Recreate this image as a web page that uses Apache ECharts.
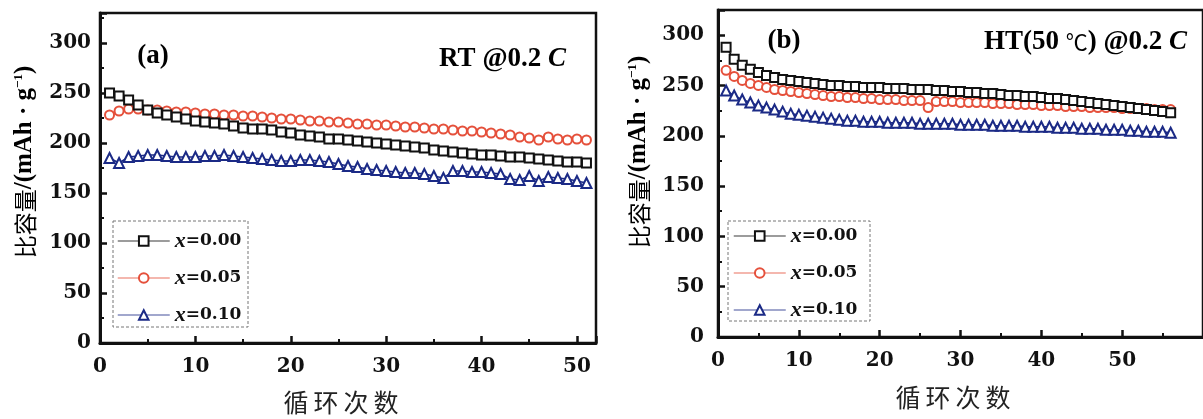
<!DOCTYPE html>
<html>
<head>
<meta charset="utf-8">
<script src="https://cdn.jsdelivr.net/npm/echarts@6/dist/echarts.min.js"></script>
<style>
html,body{margin:0;padding:0;background:#fff;}
#chart{width:1203px;height:419px;}
</style>
</head>
<body>
<div id="chart"></div>
<script>
// ---------- DATA ----------
const cyclesA = [1,2,3,4,5,6,7,8,9,10,11,12,13,14,15,16,17,18,19,20,21,22,23,24,25,26,27,28,29,30,31,32,33,34,35,36,37,38,39,40,41,42,43,44,45,46,47,48,49,50,51];
const rtX000 = [250,247,243,238,233,230,228,226,224,222,221,220,219,217,215,214,214,213,211,210,208,207,206,204,204,203,202,201,200,199,198,197,196,195,193,192,191,190,189,188,188,187,186,186,185,184,183,182,181,181,180];
const rtX005 = [228,232,234,234,233,233,232,231,231,230,229,229,228,228,227,227,226,225,224,224,223,222,222,221,221,220,219,219,218,218,217,216,216,215,214,214,213,212,212,211,210,209,208,206,205,203,206,204,203,204,203];
const rtX010 = [185,180,186,187,188,188,187,186,186,186,187,187,188,187,186,185,184,183,182,182,183,183,182,181,179,177,176,174,173,172,171,170,170,169,167,165,172,172,171,171,170,169,164,163,167,162,166,165,164,162,160];

const cyclesB = [1,2,3,4,5,6,7,8,9,10,11,12,13,14,15,16,17,18,19,20,21,22,23,24,25,26,27,28,29,30,31,32,33,34,35,36,37,38,39,40,41,42,43,44,45,46,47,48,49,50,51,52,53,54,55,56];
const htX000 = [288,276,270,266,263,260,258,256,255,254,253,252,251,250,250,249,249,248,248,248,247,247,247,246,246,246,245,245,244,244,243,243,242,242,241,240,240,239,239,238,237,237,236,235,234,233,232,231,230,229,228,227,226,225,224,223];
const htX005 = [265,259,255,252,250,248,246,245,244,243,242,241,240,239,239,238,238,237,237,236,236,236,235,235,235,228,234,234,234,233,233,233,233,232,232,232,231,231,231,230,230,230,229,229,229,228,228,228,228,227,227,227,227,226,226,226];
const htX010 = [245,240,236,233,230,228,226,224,222,221,220,219,218,217,216,215,215,214,214,214,213,213,213,213,212,212,212,212,212,211,211,211,211,210,210,210,210,209,209,209,209,208,208,208,207,207,207,206,206,206,205,205,204,204,204,203];

const seriesNames = ['x=0.00','x=0.05','x=0.10'];

// ---------- STYLE ----------
const colors = ['#111111','#e5503b','#1b2a86'];
const symbols = ['emptyRect','emptyCircle','emptyTriangle'];
const symSizes = [9,9,10];
const numFont = 'DejaVu Serif';
const axisColor = '#111';

function xAxisCfg(gridIndex, max){
  return {
    type:'value', gridIndex, min:0, max, interval:10,
    axisLine:{show:true, onZero:false, lineStyle:{color:axisColor,width:3}},
    axisTick:{show:true, inside:true, length:7, lineStyle:{color:axisColor,width:2.5}},
    minorTick:{show:true, splitNumber:2, length:4, lineStyle:{color:axisColor,width:2}},
    splitLine:{show:false},
    axisLabel:{color:'#111', fontFamily:numFont, fontWeight:'bold', fontSize:20, margin:14, showMaxLabel:false}
  };
}
function yAxisCfg(gridIndex, max, margin){
  return {
    type:'value', gridIndex, min:0, max, interval:50,
    axisLine:{show:true, onZero:false, lineStyle:{color:axisColor,width:3}},
    axisTick:{show:true, inside:true, length:7, lineStyle:{color:axisColor,width:2.5}},
    minorTick:{show:true, splitNumber:2, length:4, lineStyle:{color:axisColor,width:2}},
    splitLine:{show:false},
    axisLabel:{color:'#111', fontFamily:numFont, fontWeight:'bold', fontSize:20, margin, showMaxLabel:false}
  };
}

function mk(i, xs, ys, gi){
  return {
    type:'line', name:seriesNames[i], xAxisIndex:gi, yAxisIndex:gi,
    data: xs.map((x,k)=>[x, ys[k]]),
    symbol:symbols[i], symbolSize:symSizes[i], showAllSymbol:true,
    lineStyle:{color:colors[i], width:1.5},
    itemStyle:{color:colors[i], borderWidth:2.4},
    z: 3 - i, animation:false
  };
}

const legendText = {
  formatter: n => '{i|x}{n|' + n.slice(1) + '}',
  textStyle:{
    rich:{
      i:{fontFamily:'Liberation Serif', fontStyle:'italic', fontWeight:'bold', fontSize:22, color:'#111'},
      n:{fontFamily:numFont, fontWeight:'bold', fontSize:17, color:'#111'}
    },
    lineHeight:20
  }
};

function legendCfg(left, top){
  return Object.assign({
    orient:'vertical', left, top, padding:0, itemGap:15, itemWidth:52, itemHeight:12,
    data:seriesNames, selectedMode:false,
    lineStyle:{opacity:0.55, width:1.5},
    itemStyle:{borderWidth:2.4}
  }, legendText);
}

const yNameRich = {
  cn:{fontFamily:'Noto Sans CJK SC', fontSize:23, color:'#222'},
  en:{fontFamily:'Liberation Serif', fontWeight:'bold', fontSize:25, color:'#111'},
  sup:{fontFamily:'Liberation Serif', fontWeight:'bold', fontSize:13, color:'#111', verticalAlign:'top', lineHeight:26}
};
function yName(x, y){
  return {type:'text', x, y, rotation:Math.PI/2, silent:true,
    style:{text:'{cn|比容量}{en|/(mAh · g}{sup|−1}{en|)}', rich:yNameRich, align:'center', verticalAlign:'middle'}};
}
function xName(x, y){
  return {type:'text', x, y, silent:true,
    style:{text:'循\u2009环\u2009次\u2009数', fontFamily:'Noto Sans CJK SC', fontSize:25, fill:'#222', align:'center', verticalAlign:'middle'}};
}
function ann(x, y, text, align, size){
  return {type:'text', x, y, silent:true,
    style:{text, rich:{
      b:{fontFamily:'Liberation Serif', fontWeight:'bold', fontSize:size, color:'#111'},
      c:{fontFamily:'Liberation Serif', fontWeight:'bold', fontStyle:'italic', fontSize:size, color:'#111'},
      d:{fontFamily:'Noto Sans CJK SC', fontSize:size - 5, color:'#222'}
    }, align, verticalAlign:'middle'}};
}
function box(x, y, w, h){
  return {type:'rect', silent:true, z:-1, shape:{x, y, width:w, height:h},
    style:{fill:'#fff', stroke:'#777', lineWidth:1, lineDash:[3,2]}};
}

const chart = echarts.init(document.getElementById('chart'), null, {renderer:'canvas'});
chart.setOption({
  backgroundColor:'#fff',
  animation:false,
  grid:[
    {left:100, top:13, width:496, height:330, show:true, borderColor:axisColor, borderWidth:2.5, backgroundColor:'transparent'},
    {left:718, top:10, width:525, height:327, show:true, borderColor:axisColor, borderWidth:2.5, backgroundColor:'transparent'}
  ],
  xAxis:[xAxisCfg(0, 52), xAxisCfg(1, 60)],
  yAxis:[yAxisCfg(0, 330, 9), yAxisCfg(1, 325, 14)],
  legend:[legendCfg(117, 230), legendCfg(733, 225)],
  series:[
    mk(0, cyclesA, rtX000, 0), mk(1, cyclesA, rtX005, 0), mk(2, cyclesA, rtX010, 0),
    mk(0, cyclesB, htX000, 1), mk(1, cyclesB, htX005, 1), mk(2, cyclesB, htX010, 1)
  ],
  graphic:[
    box(113, 221, 135, 106),
    box(728, 221, 142, 100),
    yName(25, 162), yName(639, 152),
    xName(341, 402), xName(953, 397),
    ann(153, 56, '{b|(a)}', 'center', 27),
    ann(566, 59, '{b|RT @0.2 }{c|C}', 'right', 27),
    ann(784, 41, '{b|(b)}', 'center', 27),
    ann(1187, 42, '{b|HT(50 }{d|℃}{b|) @0.2 }{c|C}', 'right', 27)
  ]
});
</script>
</body>
</html>
